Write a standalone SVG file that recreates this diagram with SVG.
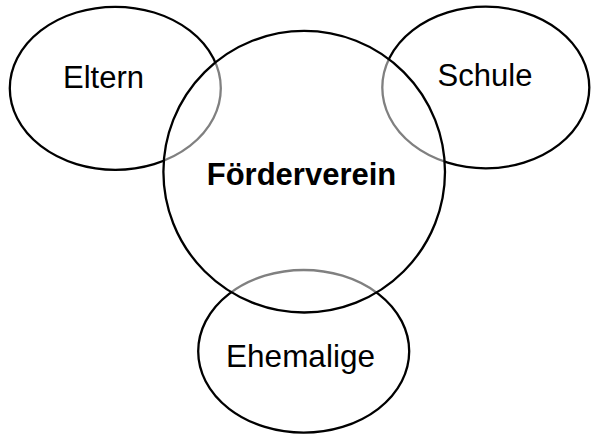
<svg xmlns="http://www.w3.org/2000/svg" width="591" height="436" viewBox="0 0 591 436">
  <style>
    .shape { fill: none; stroke: #000; stroke-width: 2.3; }
    .main { fill: #fff; fill-opacity: 0.5; stroke: #000; stroke-width: 2.3; }
    .lbl { font-family: "Liberation Sans", Arial, sans-serif; font-size: 31px; fill: #000; text-anchor: middle; }
    .bold { font-weight: bold; }
  </style>
  <rect width="591" height="436" fill="#fff"/>
  <g id="eltern">
    <ellipse class="shape" cx="115.3" cy="88.3" rx="105.5" ry="81.5"/>
    <text class="lbl" x="103.5" y="87.5">Eltern</text>
  </g>
  <g id="schule">
    <ellipse class="shape" cx="485.8" cy="87.5" rx="103.5" ry="80.8"/>
    <text class="lbl" x="485" y="85.7">Schule</text>
  </g>
  <g id="ehemalige">
    <ellipse class="shape" cx="303.7" cy="351.3" rx="105.5" ry="81.3"/>
    <text class="lbl" x="300.5" y="366.7" style="font-size:31.5px">Ehemalige</text>
  </g>
  <g id="foerderverein">
    <circle class="main" cx="304.2" cy="171.7" r="140.8"/>
    <text class="lbl bold" x="301.5" y="185">Förderverein</text>
  </g>
  <g id="connectors"/>
</svg>
